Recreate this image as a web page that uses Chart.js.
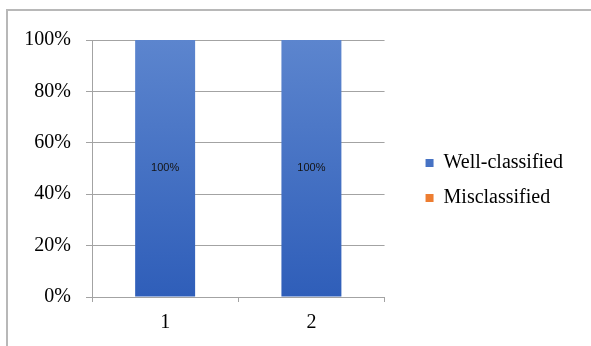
<!DOCTYPE html>
<html>
<head>
<meta charset="utf-8">
<title>Classification results</title>
<script src="https://cdn.jsdelivr.net/npm/chart.js@4/dist/chart.umd.min.js"></script>
<style>
  html, body { margin: 0; padding: 0; background: #ffffff; overflow: hidden; }
  #wrap { position: relative; width: 591px; height: 346px; }
  #frame {
    position: absolute; left: 6px; top: 9px; width: 700px; height: 500px;
    border-left: 2px solid #b8b8b8; border-top: 2px solid #b8b8b8;
  }
  #chart { position: absolute; left: 0; top: 0; }
</style>
</head>
<body>
<div id="wrap">
  <div id="frame"></div>
  <canvas id="chart" width="591" height="346"></canvas>
</div>
<script>
/* ── Data ─────────────────────────────────────────────── */

const categories = ["1", "2"];
const wellClassified = [100, 100];
const misclassified = [0, 0];
const yTicks = [0, 20, 40, 60, 80, 100];

const SERIF = "'Liberation Serif', 'Times New Roman', serif";
const GRID = "#a3a3a3";

// ── Helpers ──────────────────────────────────────────────

function blueFill(ctx) {
  const area = ctx.chart.chartArea;
  if (!area) return "#4472c4";
  const g = ctx.chart.ctx.createLinearGradient(0, area.bottom, 0, area.top);
  g.addColorStop(0, "#2f5eb9");
  g.addColorStop(1, "#5c85ce");
  return g;
}

// value labels in the middle of the well-classified bars
const barLabels = {
  id: "barLabels",
  afterDatasetsDraw(chart) {
    const { ctx } = chart;
    const meta = chart.getDatasetMeta(0);
    ctx.save();
    ctx.font = "11px 'Liberation Sans', Arial, sans-serif";
    ctx.fillStyle = "#141414";
    ctx.textAlign = "center";
    ctx.textBaseline = "middle";
    meta.data.forEach((bar, i) => {
      const v = chart.data.datasets[0].data[i];
      if (!v) return;
      ctx.fillText(v + "%", bar.x, (bar.y + bar.base) / 2);
    });
    ctx.restore();
  },
};

// legend sits a little right of the plot, centred slightly below its middle
const legendGap = {
  id: "legendGap",
  afterLayout(chart) {
    const l = chart.legend;
    const area = chart.chartArea;
    l.left = area.right + 26;
    l.right = l.left + l.width;
    l.top = area.top;
    l.bottom = area.bottom + 24;
    l.height = l.bottom - l.top;
  },
};

// ── Chart ────────────────────────────────────────────────

new Chart(document.getElementById("chart"), {
  type: "bar",
  data: {
    labels: categories,
    datasets: [
      {
        label: "Well-classified",
        data: wellClassified,
        backgroundColor: blueFill,
        barPercentage: 0.41,
        categoryPercentage: 1,
      },
      {
        label: "Misclassified",
        data: misclassified,
        backgroundColor: "#ed7d31",
        barPercentage: 0.41,
        categoryPercentage: 1,
      },
    ],
  },
  options: {
    responsive: false,
    animation: false,
    layout: { padding: { top: 40, left: 0, right: 44, bottom: 0 } },
    plugins: {
      tooltip: { enabled: false },
      legend: {
        position: "right",
        maxWidth: 300,
        labels: {
          boxWidth: 8,
          boxHeight: 8,
          padding: 15,
          color: "#000000",
          font: { family: SERIF, size: 20 },
        },
      },
    },
    scales: {
      x: {
        stacked: true,
        afterFit: s => { s.height = 49; },
        grid: {
          offset: true,
          drawOnChartArea: false,
          tickLength: 5,
          color: GRID,
        },
        border: { color: GRID },
        ticks: {
          padding: 9,
          color: "#000000",
          font: { family: SERIF, size: 20 },
        },
      },
      y: {
        stacked: true,
        min: 0,
        max: 100,
        afterFit: s => { s.width = 92; },
        afterBuildTicks: s => { s.ticks = yTicks.map(v => ({ value: v })); },
        grid: { color: GRID, tickLength: 6 },
        border: { color: GRID },
        ticks: {
          padding: 15,
          color: "#000000",
          font: { family: SERIF, size: 20 },
          callback: v => v + "%",
        },
      },
    },
  },
  plugins: [barLabels, legendGap],
});
</script>
</body>
</html>
